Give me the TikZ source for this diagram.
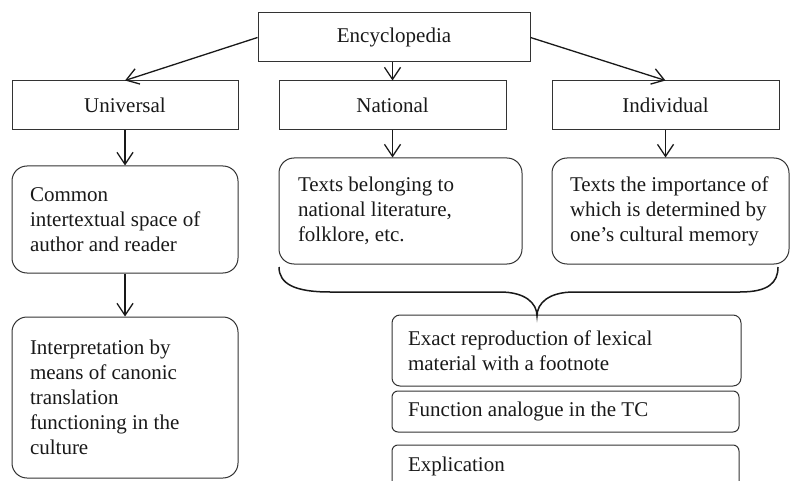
\documentclass[tikz,border=0pt]{standalone}
\usepackage{fontspec}
\setmainfont{Liberation Serif}
\usetikzlibrary{arrows.meta}
\hyphenpenalty=10000
\exhyphenpenalty=10000
\begin{document}
\begin{tikzpicture}[x=1pt,y=-1pt,
  every node/.style={font=\fontsize{21}{25}\selectfont, text=black!90},
  rectbox/.style={draw=black!80, line width=1pt, inner sep=0pt},
  roundbox/.style={draw=black!80, line width=1pt, rounded corners=15pt, inner sep=0pt, align=flush left},
  smallround/.style={draw=black!80, line width=1pt, rounded corners=8pt, inner sep=0pt, align=flush left},
  arr/.style={line width=1.3pt, black!90, -{Straight Barb[length=12pt,width=16pt,line width=1.3pt]}},
  bracepath/.style={line width=1.5pt, black!90}
]
\useasboundingbox (0,0) rectangle (792,481);
\clip (0,0) rectangle (792,481);

\node[rectbox, minimum width=272pt, minimum height=49pt] (enc) at (394,37.5) {Encyclopedia};
\node[rectbox, minimum width=226pt, minimum height=49pt] (uni) at (125,105.5) {Universal};
\node[rectbox, minimum width=227pt, minimum height=49pt] (nat) at (392.5,105.5) {National};
\node[rectbox, minimum width=227pt, minimum height=49pt] (ind) at (665.5,105.5) {Individual};

\node[roundbox, minimum width=226pt, minimum height=107pt, text width=190pt] (common) at (125,219.5)
  {Common\\intertextual space of\\author and reader};
\node[roundbox, minimum width=243pt, minimum height=106pt, text width=205pt] (texts) at (400.5,211)
  {Texts belonging to\\national literature,\\folklore, etc.};
\node[roundbox, minimum width=237pt, minimum height=106pt, text width=201pt] (indtexts) at (670.5,211)
  {Texts the importance of\\which is determined by\\one’s cultural memory};
\node[roundbox, minimum width=226pt, minimum height=161pt, text width=190pt] (interp) at (125,397.5)
  {Interpretation by\\means of canonic\\translation\\functioning in the\\culture};

\node[smallround, minimum width=349pt, minimum height=71pt, text width=317pt] (exact) at (566.5,350.5)
  {Exact reproduction of lexical\\material with a footnote};
\node[smallround, rounded corners=6pt, minimum width=347pt, minimum height=41pt, text width=315pt] (func) at (565.5,411.5)
  {Function analogue in the TC};
\node[smallround, rounded corners=6pt, minimum width=347pt, minimum height=42pt, text width=315pt] (expl) at (565.5,466)
  {Explication};

\draw[arr] (enc.west) -- (uni.north);
\draw[arr] (enc.east) -- (ind.north);
\draw[arr] (enc.south -| nat.north) -- (nat.north);
\draw[arr] (uni.south) -- (common.north);
\draw[arr] (nat.south) -- (nat.south |- texts.north);
\draw[arr] (ind.south) -- (ind.south |- indtexts.north);
\draw[arr] (common.south) -- (interp.north);

\coordinate (bl) at (279,267);
\coordinate (br) at (778,267);
\coordinate (tip) at (537,316);
\draw[bracepath] (bl) .. controls (279,284) and (295,292) .. (330,292)
  -- (500,292) .. controls (525,292) and (537,303) .. (tip)
  .. controls (537,303) and (549,292) .. (574,292)
  -- (740,292) .. controls (768,292) and (778,283) .. (br);
\end{tikzpicture}
\end{document}
